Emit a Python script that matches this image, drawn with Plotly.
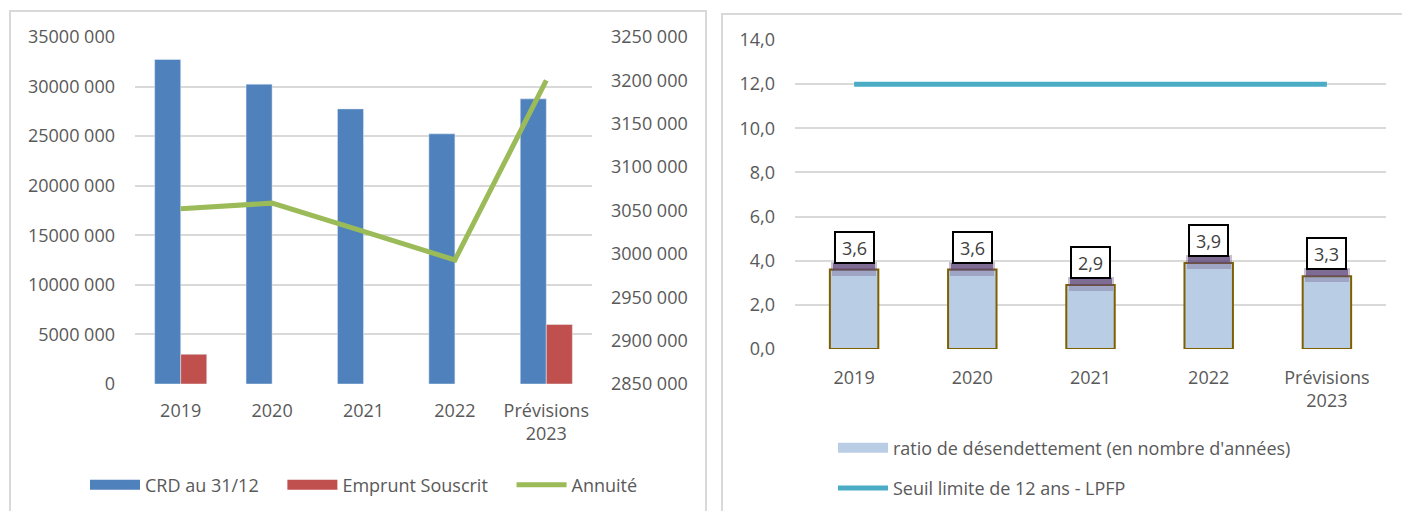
import plotly.graph_objects as go

# ---------------- data ----------------
categories = ["2019", "2020", "2021", "2022", "Prévisions<br>2023"]
crd = [32730000, 30240000, 27750000, 25230000, 28760000]
emprunt = [3000000, None, None, None, 6000000]
annuite = [3052000, 3058500, 3026000, 2993000, 3200000]

ratio = [3.6, 3.6, 2.9, 3.9, 3.3]
ratio_labels = ["3,6", "3,6", "2,9", "3,9", "3,3"]
seuil = [12, 12, 12, 12, 12]

left_tickvals = [0, 5000000, 10000000, 15000000, 20000000, 25000000, 30000000, 35000000]
left_ticktext = ["0", "5000 000", "10000 000", "15000 000", "20000 000", "25000 000", "30000 000", "35000 000"]
right_tickvals = [2850000, 2900000, 2950000, 3000000, 3050000, 3100000, 3150000, 3200000, 3250000]
right_ticktext = ["2850 000", "2900 000", "2950 000", "3000 000", "3050 000", "3100 000", "3150 000", "3200 000", "3250 000"]
ratio_tickvals = [0, 2, 4, 6, 8, 10, 12, 14]
ratio_ticktext = ["0,0", "2,0", "4,0", "6,0", "8,0", "10,0", "12,0", "14,0"]

# ---------------- style ----------------
W, H = 1402, 511
FONT = "Open Sans, Liberation Sans, Arial"
TXT = "#595959"
GRID = "#d9d9d9"
BLUE = "#4f81bd"
RED = "#c0504d"
GREEN = "#9bbb59"
LIGHTBLUE = "#b9cde5"
BROWN = "#7f6000"
TEAL = "#4bacc6"
PAD = "\u00a0" * 4


def px_x(p):
    return p / W


def px_y(p):
    return (H - p) / H


fig = go.Figure()

# ---- left chart ----
fig.add_trace(go.Bar(x=categories, y=crd, name="CRD au 31/12", marker_color=BLUE,
                     xaxis="x", yaxis="y", showlegend=False, offsetgroup="a"))
fig.add_trace(go.Bar(x=categories, y=emprunt, name="Emprunt Souscrit", marker_color=RED,
                     xaxis="x", yaxis="y", showlegend=False, offsetgroup="b"))
fig.add_trace(go.Scatter(x=categories, y=annuite, name="Annuité", mode="lines",
                         line=dict(color=GREEN, width=5), xaxis="x", yaxis="y3",
                         showlegend=False))
# legend entries (wide swatches like the original)
fig.add_trace(go.Scatter(x=[None], y=[None], mode="lines", name="CRD au 31/12" + PAD,
                         line=dict(color=BLUE, width=13), xaxis="x", yaxis="y", legend="legend"))
fig.add_trace(go.Scatter(x=[None], y=[None], mode="lines", name="Emprunt Souscrit" + PAD,
                         line=dict(color=RED, width=13), xaxis="x", yaxis="y", legend="legend"))
fig.add_trace(go.Scatter(x=[None], y=[None], mode="lines", name="Annuité",
                         line=dict(color=GREEN, width=5), xaxis="x", yaxis="y", legend="legend"))

# ---- right chart ----
fig.add_trace(go.Bar(x=categories, y=ratio, name="ratio de désendettement (en nombre d'années)",
                     marker=dict(color=LIGHTBLUE, line=dict(color=BROWN, width=2)),
                     width=0.41, xaxis="x2", yaxis="y2", showlegend=False))
fig.add_trace(go.Scatter(x=[None], y=[None], mode="lines",
                         name="ratio de désendettement (en nombre d'années)",
                         line=dict(color=LIGHTBLUE, width=13), xaxis="x2", yaxis="y2",
                         legend="legend2", legendgroup="g1"))
fig.add_trace(go.Scatter(x=categories, y=seuil, name="Seuil limite de 12 ans - LPFP", mode="lines",
                         line=dict(color=TEAL, width=5), xaxis="x2", yaxis="y2",
                         legend="legend2", legendgroup="g2"))

annotations = []
for i, (v, t) in enumerate(zip(ratio, ratio_labels)):
    # soft purple glow under the label box
    annotations.append(dict(x=i, y=v, xref="x2", yref="y2", text=" ", showarrow=False,
                            yanchor="top", yshift=8, width=46, height=9,
                            bgcolor="rgba(96,73,122,0.35)", borderpad=0, borderwidth=0))
    annotations.append(dict(x=i, y=v, xref="x2", yref="y2", text=" ", showarrow=False,
                            yanchor="top", yshift=7, width=42, height=7,
                            bgcolor="rgba(96,73,122,0.7)", borderpad=0, borderwidth=0))
    annotations.append(dict(x=i, y=v, xref="x2", yref="y2", text=" ", showarrow=False,
                            yanchor="top", yshift=0, width=44, height=6,
                            bgcolor="rgba(96,73,122,0.3)", borderpad=0, borderwidth=0))
    annotations.append(dict(x=i, y=v, xref="x2", yref="y2", text=t, showarrow=False,
                            yanchor="bottom", yshift=6, width=31, height=23,
                            bgcolor="white", bordercolor="black", borderwidth=2, borderpad=3,
                            font=dict(family=FONT, size=18, color="#404040")))

shapes = [
    dict(type="rect", xref="paper", yref="paper", x0=px_x(10), x1=px_x(706), y0=px_y(530), y1=px_y(11),
         line=dict(color=GRID, width=2), fillcolor="rgba(0,0,0,0)", layer="below"),
    dict(type="rect", xref="paper", yref="paper", x0=px_x(722), x1=px_x(1420), y0=px_y(530), y1=px_y(14),
         line=dict(color=GRID, width=2), fillcolor="rgba(0,0,0,0)", layer="below"),
]

axis_font = dict(family=FONT, size=18, color=TXT)
common = dict(automargin=False, zeroline=False, showline=False, ticks="", tickfont=axis_font)

fig.update_layout(
    width=W, height=H, autosize=False,
    margin=dict(l=0, r=0, t=0, b=0, autoexpand=False),
    paper_bgcolor="white", plot_bgcolor="rgba(0,0,0,0)",
    font=dict(family=FONT, size=18, color=TXT),
    barmode="group", bargap=0.43, bargroupgap=0,
    xaxis=dict(domain=[px_x(135), px_x(592)], anchor="y", type="category",
               categoryorder="array", categoryarray=categories, range=[-0.5, 4.5],
               showgrid=False, ticklabelstandoff=14, **common),
    yaxis=dict(domain=[px_y(384), px_y(37)], anchor="x", range=[0, 35000000],
               tickvals=left_tickvals, ticktext=left_ticktext, showgrid=True,
               gridcolor=GRID, gridwidth=2, ticklabelstandoff=19, **common),
    yaxis3=dict(overlaying="y", side="right", anchor="x", range=[2850000, 3250000],
                tickvals=right_tickvals, ticktext=right_ticktext, showgrid=False,
                ticklabelstandoff=18, **common),
    xaxis2=dict(domain=[px_x(795), px_x(1386)], anchor="y2", type="category",
                categoryorder="array", categoryarray=categories, range=[-0.5, 4.5],
                showgrid=False, ticklabelstandoff=16, **common),
    yaxis2=dict(domain=[px_y(349), px_y(40)], anchor="x2", range=[0, 14],
                tickvals=ratio_tickvals, ticktext=ratio_ticktext, showgrid=True,
                gridcolor=GRID, gridwidth=2, ticklabelstandoff=19, **common),
    legend=dict(orientation="h", x=px_x(85), y=px_y(485), xanchor="left", yanchor="middle",
                font=dict(family=FONT, size=18, color=TXT), bgcolor="rgba(0,0,0,0)",
                itemwidth=50, tracegroupgap=0),
    legend2=dict(orientation="v", x=px_x(833), y=px_y(468), xanchor="left", yanchor="middle",
                 font=dict(family=FONT, size=18, color=TXT), bgcolor="rgba(0,0,0,0)",
                 itemwidth=50, traceorder="grouped", tracegroupgap=14),
    annotations=annotations,
    shapes=shapes,
)

fig.write_html("out.html", config={"displayModeBar": False},
               post_script="document.body.style.margin='0px';document.body.style.overflow='hidden';")
